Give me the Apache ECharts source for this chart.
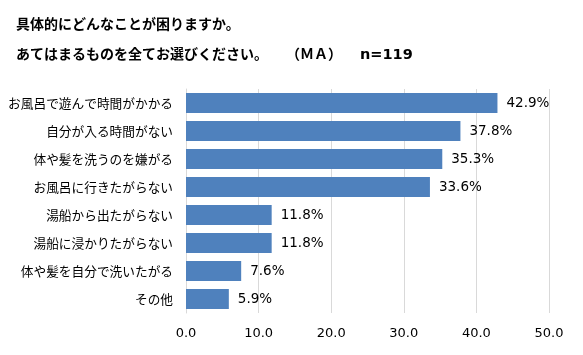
<!DOCTYPE html>
<html><head><meta charset="utf-8">
<script src="https://cdn.jsdelivr.net/npm/echarts@6/dist/echarts.min.js"></script>
<style>html,body{margin:0;padding:0;background:#fff}#c{width:583px;height:355px}</style>
</head><body><div id="c"></div>
<script>
const categories = ['お風呂で遊んで時間がかかる','自分が入る時間がない','体や髪を洗うのを嫌がる','お風呂に行きたがらない','湯船から出たがらない','湯船に浸かりたがらない','体や髪を自分で洗いたがる','その他'];
const values = [42.9, 37.8, 35.3, 33.6, 11.8, 11.8, 7.6, 5.9];
const xTicks = [0, 10, 20, 30, 40, 50];
const font = '"Noto Sans CJK JP", sans-serif';
const numFont = '"DejaVu Sans", sans-serif';
const chart = echarts.init(document.getElementById('c'));
chart.setOption({
  animation: false,
  backgroundColor: '#fff',
  title: [
    {text: '具体的にどんなことが困りますか。', left: 11, top: 12, textStyle: {fontFamily: font, fontSize: 14, fontWeight: 'bold', color: '#000'}},
    {text: 'あてはまるものを全てお選びください。', left: 11, top: 42, textStyle: {fontFamily: font, fontSize: 14, fontWeight: 'bold', color: '#000'}},
    {text: '（ＭＡ）', left: 281, top: 42, textStyle: {fontFamily: font, fontSize: 14, fontWeight: 'bold', color: '#000'}},
    {text: 'n=119', left: 355, top: 43, textStyle: {fontFamily: numFont, fontSize: 14.5, fontWeight: 'bold', color: '#000'}}
  ],
  grid: {left: 186, right: 34, top: 89, height: 224, containLabel: false},
  xAxis: {
    type: 'value', min: xTicks[0], max: xTicks[xTicks.length-1], interval: 10,
    axisLine: {show: false}, axisTick: {show: false},
    splitLine: {lineStyle: {color: '#d9d9d9'}},
    axisLabel: {formatter: v => v.toFixed(1), fontFamily: numFont, fontSize: 13, color: '#000', margin: 14}
  },
  yAxis: {
    type: 'category', data: categories, inverse: true,
    axisLine: {show: true, lineStyle: {color: '#d9d9d9'}}, axisTick: {show: false},
    axisLabel: {fontFamily: font, fontSize: 12.7, color: '#000', margin: 13}
  },
  series: [{
    type: 'bar', data: values, barWidth: 20,
    itemStyle: {color: '#4f81bd'},
    label: {show: true, position: 'right', distance: 9, formatter: p => p.value.toFixed(1) + '%', fontFamily: numFont, fontSize: 13.5, color: '#000'}
  }]
});
</script></body></html>
